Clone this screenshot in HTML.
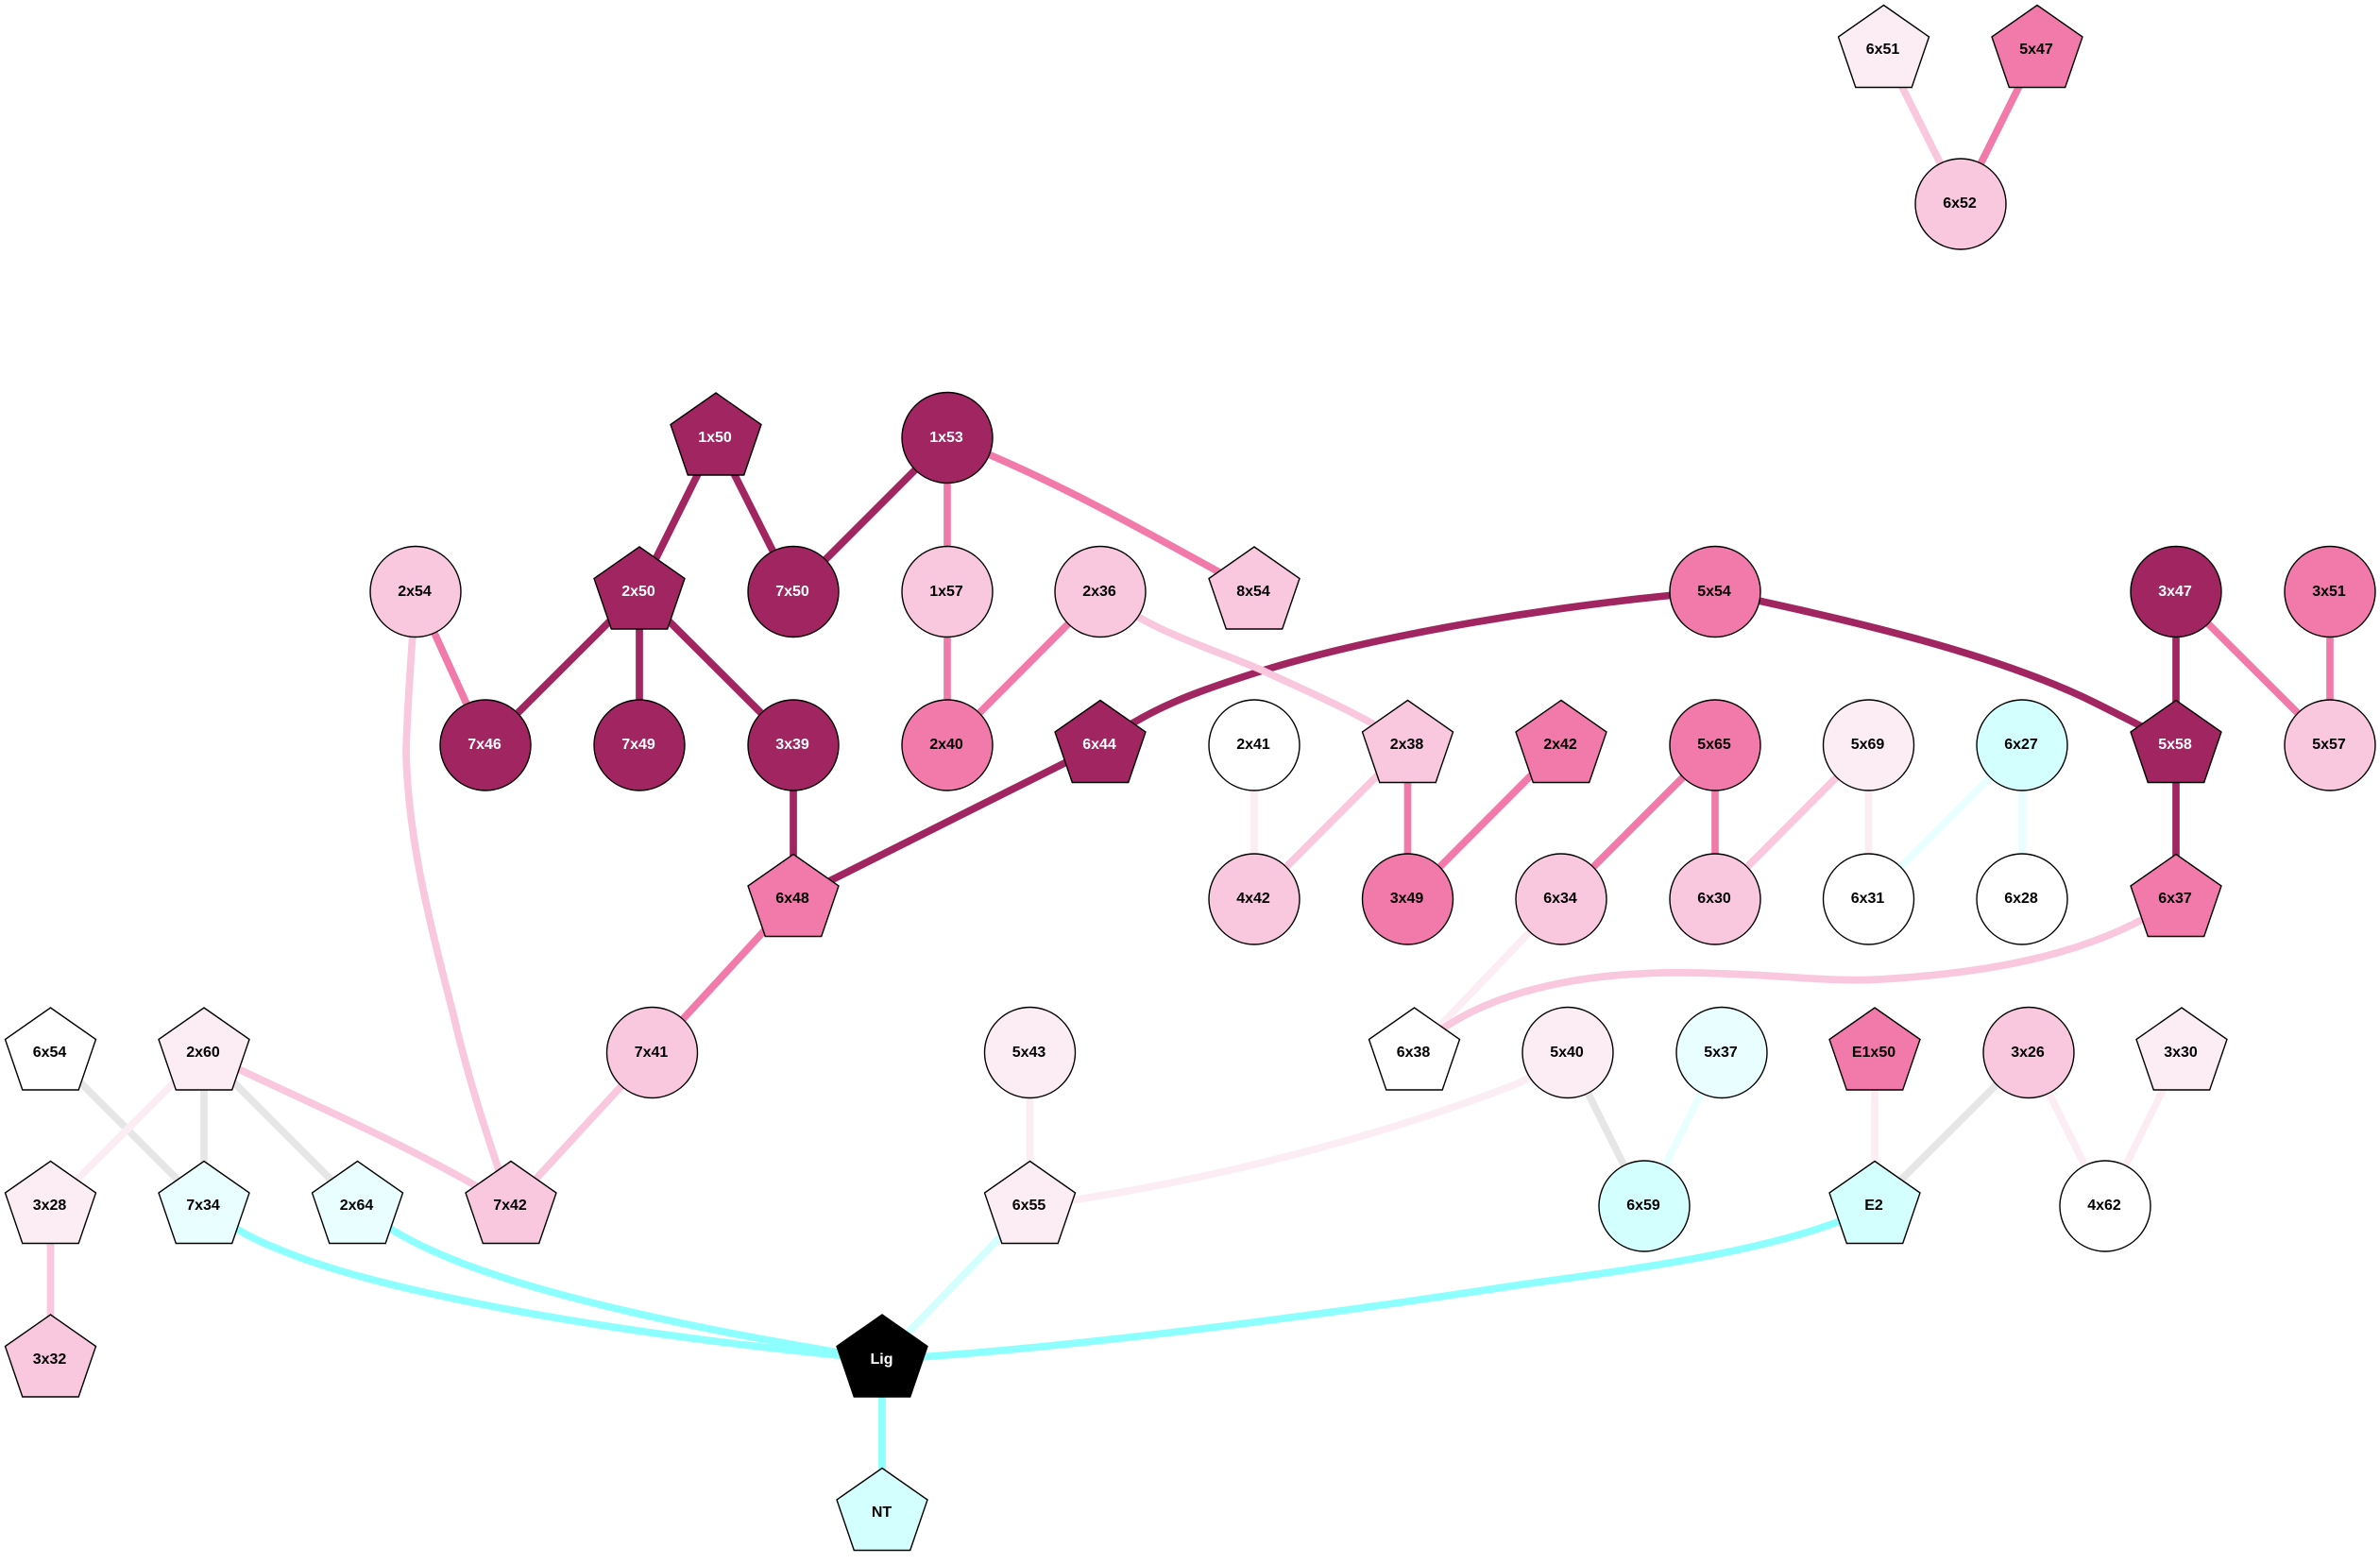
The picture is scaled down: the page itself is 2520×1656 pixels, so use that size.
<!DOCTYPE html>
<html><head><meta charset="utf-8"><style>
html,body{margin:0;padding:0;background:#fff}
svg{display:block}
text{font-family:"Liberation Sans",Arial,sans-serif;font-weight:700;font-size:16px;text-anchor:middle;fill:#000}
text.w{fill:#fff}
.e path,.e line{fill:none;stroke-width:7.7}
.n *{stroke:#000;stroke-width:1.4}
.d{stroke:#a12560}.m{stroke:#f27aaa}.l{stroke:#f9c7de}.v{stroke:#fcedf4}.g{stroke:#e6e6e6}.c{stroke:#8dffff}.t{stroke:#d4ffff}.u{stroke:#e9ffff}
</style></head><body>
<svg width="2520" height="1656" viewBox="0 0 2520 1656" xmlns="http://www.w3.org/2000/svg">
<defs><polygon id="p" points="0,-47.5 48,-14 29.7,39.5 -29.7,39.5 -48,-14"/></defs>
<rect width="2520" height="1656" fill="#fff"/>
<g class="e">
<line class="l" x1="1994.5" y1="53" x2="2076" y2="216"/>
<line class="m" x1="2157" y1="53" x2="2076" y2="216"/>
<line class="d" x1="758" y1="463.5" x2="677" y2="626.5"/>
<line class="d" x1="758" y1="463.5" x2="840" y2="626.5"/>
<line class="d" x1="1003" y1="463.5" x2="840" y2="626.5"/>
<line class="m" x1="1003" y1="463.5" x2="1003" y2="626.5"/>
<line class="m" x1="1003" y1="626.5" x2="1003" y2="789"/>
<line class="m" x1="1165" y1="626.5" x2="1003" y2="789"/>
<line class="d" x1="677" y1="626.5" x2="514" y2="789"/>
<line class="d" x1="677" y1="626.5" x2="677" y2="789"/>
<line class="d" x1="677" y1="626.5" x2="840" y2="789"/>
<line class="m" x1="440" y1="626.5" x2="514" y2="789"/>
<line class="d" x1="840" y1="789" x2="840" y2="952"/>
<line class="d" x1="840" y1="952" x2="1165" y2="789"/>
<line class="m" x1="840" y1="952" x2="690.5" y2="1114.5"/>
<line class="l" x1="690.5" y1="1114.5" x2="541" y2="1277"/>
<line class="v" x1="1328" y1="789" x2="1328" y2="952"/>
<line class="l" x1="1490.5" y1="789" x2="1328" y2="952"/>
<line class="m" x1="1490.5" y1="789" x2="1490.5" y2="952"/>
<line class="m" x1="1653" y1="789" x2="1490.5" y2="952"/>
<line class="m" x1="1816" y1="789" x2="1653" y2="952"/>
<line class="m" x1="1816" y1="789" x2="1816" y2="952"/>
<line class="l" x1="1978.5" y1="789" x2="1816" y2="952"/>
<line class="v" x1="1978.5" y1="789" x2="1978.5" y2="952"/>
<line class="u" x1="2141" y1="789" x2="1978.5" y2="952"/>
<line class="u" x1="2141" y1="789" x2="2141" y2="952"/>
<line class="d" x1="2304" y1="626.5" x2="2304" y2="789"/>
<line class="m" x1="2304" y1="626.5" x2="2467" y2="789"/>
<line class="m" x1="2467" y1="626.5" x2="2467" y2="789"/>
<line class="d" x1="2304" y1="789" x2="2304" y2="952"/>
<line class="v" x1="1653" y1="952" x2="1497.5" y2="1114.5"/>
<line class="v" x1="1090.5" y1="1114.5" x2="1090.5" y2="1277"/>
<line class="g" x1="1660" y1="1114.5" x2="1741" y2="1277"/>
<line class="u" x1="1823" y1="1114.5" x2="1741" y2="1277"/>
<line class="v" x1="1985" y1="1114.5" x2="1985" y2="1277"/>
<line class="g" x1="2148" y1="1114.5" x2="1985" y2="1277"/>
<line class="v" x1="2148" y1="1114.5" x2="2229" y2="1277"/>
<line class="v" x1="2310" y1="1114.5" x2="2229" y2="1277"/>
<line class="g" x1="53.5" y1="1114.5" x2="216" y2="1277"/>
<line class="g" x1="216" y1="1114.5" x2="216" y2="1277"/>
<line class="g" x1="216" y1="1114.5" x2="378.5" y2="1277"/>
<line class="v" x1="216" y1="1114.5" x2="53.5" y2="1277"/>
<line class="l" x1="53.5" y1="1277" x2="53.5" y2="1439.5"/>
<line class="t" x1="1090.5" y1="1277" x2="934" y2="1439.5"/>
<line class="c" x1="934" y1="1439.5" x2="934" y2="1602"/>
<path class="m" d="M1003 463.5C1100 500 1200 555 1328 626.5"/>
<path class="d" d="M1816 626C1650 640 1460 672 1337 710C1270 731 1215 750 1165 789"/>
<path class="d" d="M1816 626C1950 655 2110 690 2220 745C2250 760 2280 775 2304 789"/>
<path class="l" d="M1165 626.5C1220 670 1280 685 1337 710C1390 735 1440 755 1490.5 789"/>
<path class="l" d="M440 626.5C436 690 431 745 430 797C432 880 450 960 480 1074C495 1140 518 1210 541 1277"/>
<path class="l" d="M216 1114.5C330 1170 420 1205 541 1277"/>
<path class="l" d="M1497.5 1114.5C1550 1060 1650 1028 1790 1030C1880 1031 1930 1040 1990 1037C2110 1030 2220 1010 2304 952"/>
<path class="v" d="M1090.5 1277C1240 1258 1430 1215 1600 1150C1625 1140 1645 1128 1660 1114.5"/>
<path class="c" d="M216 1277C250 1303 270 1313 296 1323C400 1367 640 1412 934 1439.5"/>
<path class="c" d="M378.5 1277C405 1297 430 1312 455 1323C560 1372 760 1412 934 1439.5"/>
<path class="c" d="M1985 1277C1900 1320 1760 1340 1612 1360C1350 1400 1100 1430 934 1439.5"/>
</g>
<g class="n">
<use href="#p" x="1994.5" y="53" fill="#fcedf4"/>
<use href="#p" x="2157" y="53" fill="#f27aaa"/>
<circle cx="2076" cy="216" r="48" fill="#f9c7de"/>
<use href="#p" x="758" y="463.5" fill="#a12560"/>
<circle cx="1003" cy="463.5" r="48" fill="#a12560"/>
<circle cx="440" cy="626.5" r="48" fill="#f9c7de"/>
<use href="#p" x="677" y="626.5" fill="#a12560"/>
<circle cx="840" cy="626.5" r="48" fill="#a12560"/>
<circle cx="1003" cy="626.5" r="48" fill="#f9c7de"/>
<circle cx="1165" cy="626.5" r="48" fill="#f9c7de"/>
<use href="#p" x="1328" y="626.5" fill="#f9c7de"/>
<circle cx="1816" cy="626.5" r="48" fill="#f27aaa"/>
<circle cx="2304" cy="626.5" r="48" fill="#a12560"/>
<circle cx="2467" cy="626.5" r="48" fill="#f27aaa"/>
<circle cx="514" cy="789" r="48" fill="#a12560"/>
<circle cx="677" cy="789" r="48" fill="#a12560"/>
<circle cx="840" cy="789" r="48" fill="#a12560"/>
<circle cx="1003" cy="789" r="48" fill="#f27aaa"/>
<use href="#p" x="1165" y="789" fill="#a12560"/>
<circle cx="1328" cy="789" r="48" fill="#fff"/>
<use href="#p" x="1490.5" y="789" fill="#f9c7de"/>
<use href="#p" x="1653" y="789" fill="#f27aaa"/>
<circle cx="1816" cy="789" r="48" fill="#f27aaa"/>
<circle cx="1978.5" cy="789" r="48" fill="#fcedf4"/>
<circle cx="2141" cy="789" r="48" fill="#d4ffff"/>
<use href="#p" x="2304" y="789" fill="#a12560"/>
<circle cx="2467" cy="789" r="48" fill="#f9c7de"/>
<use href="#p" x="840" y="952" fill="#f27aaa"/>
<circle cx="1328" cy="952" r="48" fill="#f9c7de"/>
<circle cx="1490.5" cy="952" r="48" fill="#f27aaa"/>
<circle cx="1653" cy="952" r="48" fill="#f9c7de"/>
<circle cx="1816" cy="952" r="48" fill="#f9c7de"/>
<circle cx="1978.5" cy="952" r="48" fill="#fff"/>
<circle cx="2141" cy="952" r="48" fill="#fff"/>
<use href="#p" x="2304" y="952" fill="#f27aaa"/>
<use href="#p" x="53.5" y="1114.5" fill="#fff"/>
<use href="#p" x="216" y="1114.5" fill="#fcedf4"/>
<circle cx="690.5" cy="1114.5" r="48" fill="#f9c7de"/>
<circle cx="1090.5" cy="1114.5" r="48" fill="#fcedf4"/>
<use href="#p" x="1497.5" y="1114.5" fill="#fff"/>
<circle cx="1660" cy="1114.5" r="48" fill="#fcedf4"/>
<circle cx="1823" cy="1114.5" r="48" fill="#e9ffff"/>
<use href="#p" x="1985" y="1114.5" fill="#f27aaa"/>
<circle cx="2148" cy="1114.5" r="48" fill="#f9c7de"/>
<use href="#p" x="2310" y="1114.5" fill="#fcedf4"/>
<use href="#p" x="53.5" y="1277" fill="#fcedf4"/>
<use href="#p" x="216" y="1277" fill="#e9ffff"/>
<use href="#p" x="378.5" y="1277" fill="#e9ffff"/>
<use href="#p" x="541" y="1277" fill="#f9c7de"/>
<use href="#p" x="1090.5" y="1277" fill="#fcedf4"/>
<circle cx="1741" cy="1277" r="48" fill="#d4ffff"/>
<use href="#p" x="1985" y="1277" fill="#d4ffff"/>
<circle cx="2229" cy="1277" r="48" fill="#fff"/>
<use href="#p" x="53.5" y="1439.5" fill="#f9c7de"/>
<use href="#p" x="934" y="1439.5" fill="#000"/>
<use href="#p" x="934" y="1602" fill="#d4ffff"/>
</g>
<g>
<text x="1993.5" y="57">6x51</text>
<text x="2156" y="57">5x47</text>
<text x="2075" y="220">6x52</text>
<text class="w" x="757" y="468">1x50</text>
<text class="w" x="1002" y="468">1x53</text>
<text x="439" y="631">2x54</text>
<text class="w" x="676" y="631">2x50</text>
<text class="w" x="839" y="631">7x50</text>
<text x="1002" y="631">1x57</text>
<text x="1164" y="631">2x36</text>
<text x="1327" y="631">8x54</text>
<text x="1815" y="631">5x54</text>
<text class="w" x="2303" y="631">3x47</text>
<text x="2466" y="631">3x51</text>
<text class="w" x="513" y="793">7x46</text>
<text class="w" x="676" y="793">7x49</text>
<text class="w" x="839" y="793">3x39</text>
<text x="1002" y="793">2x40</text>
<text class="w" x="1164" y="793">6x44</text>
<text x="1327" y="793">2x41</text>
<text x="1489.5" y="793">2x38</text>
<text x="1652" y="793">2x42</text>
<text x="1815" y="793">5x65</text>
<text x="1977.5" y="793">5x69</text>
<text x="2140" y="793">6x27</text>
<text class="w" x="2303" y="793">5x58</text>
<text x="2466" y="793">5x57</text>
<text x="839" y="956">6x48</text>
<text x="1327" y="956">4x42</text>
<text x="1489.5" y="956">3x49</text>
<text x="1652" y="956">6x34</text>
<text x="1815" y="956">6x30</text>
<text x="1977.5" y="956">6x31</text>
<text x="2140" y="956">6x28</text>
<text x="2303" y="956">6x37</text>
<text x="52.5" y="1119">6x54</text>
<text x="215" y="1119">2x60</text>
<text x="689.5" y="1119">7x41</text>
<text x="1089.5" y="1119">5x43</text>
<text x="1496.5" y="1119">6x38</text>
<text x="1659" y="1119">5x40</text>
<text x="1822" y="1119">5x37</text>
<text x="1984" y="1119">E1x50</text>
<text x="2147" y="1119">3x26</text>
<text x="2309" y="1119">3x30</text>
<text x="52.5" y="1281">3x28</text>
<text x="215" y="1281">7x34</text>
<text x="377.5" y="1281">2x64</text>
<text x="540" y="1281">7x42</text>
<text x="1089.5" y="1281">6x55</text>
<text x="1740" y="1281">6x59</text>
<text x="1984" y="1281">E2</text>
<text x="2228" y="1281">4x62</text>
<text x="52.5" y="1444">3x32</text>
<text class="w" x="933.5" y="1444">Lig</text>
<text x="933.5" y="1606">NT</text>
</g>
</svg>
</body></html>
